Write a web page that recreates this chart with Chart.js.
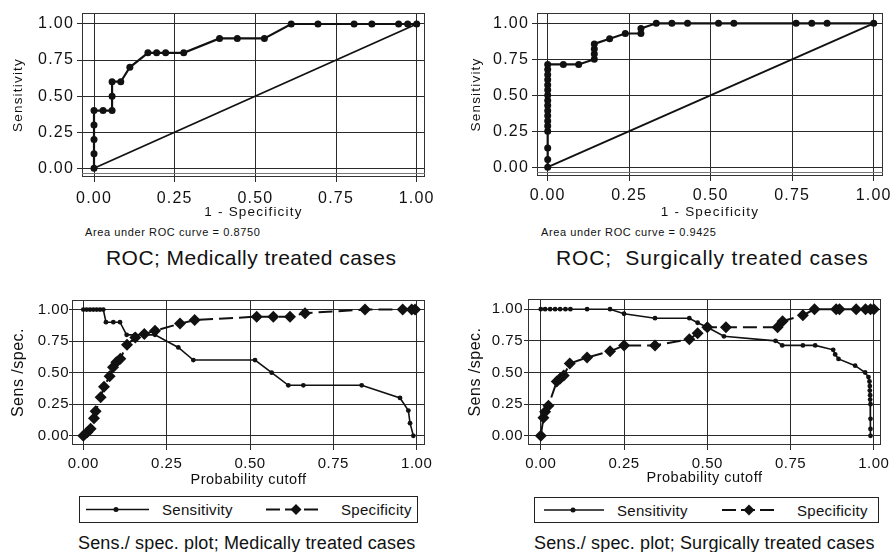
<!DOCTYPE html>
<html>
<head>
<meta charset="utf-8">
<script src="https://cdn.jsdelivr.net/npm/chart.js"></script>
<style>
  body { margin: 0; width: 892px; height: 552px; position: relative; overflow: hidden; background: #fff; color: #111;
         font-family: "Liberation Sans", Arial, Helvetica, sans-serif; }
  canvas { position: absolute; }
  .txt { position: absolute; white-space: pre; line-height: 1; }
  .auc { font-size: 11px; letter-spacing: 0.6px; }
  .roc-title { font-size: 21px; letter-spacing: 0.45px; }
  .ss-title { font-size: 18px; letter-spacing: 0.15px; }
  .legend { position: absolute; border: 1px solid #222; box-sizing: border-box; }
  .legend svg { position: absolute; left: 0; top: 0; }
  .legend span { position: absolute; font-size: 15px; line-height: 1; letter-spacing: 0.3px; white-space: nowrap; }
</style>
</head>
<body>
<canvas id="rocMed" width="440" height="222" style="left:0;top:0"></canvas>
<canvas id="rocSur" width="446" height="222" style="left:446px;top:0"></canvas>
<canvas id="ssMed" width="440" height="200" style="left:0;top:290px"></canvas>
<canvas id="ssSur" width="446" height="200" style="left:446px;top:290px"></canvas>

<div class="txt auc" style="left:85px;top:227px">Area under ROC curve = 0.8750</div>
<div class="txt auc" style="left:541px;top:227px">Area under ROC curve = 0.9425</div>
<div class="txt roc-title" style="left:106px;top:247px">ROC; Medically treated cases</div>
<div class="txt roc-title" style="left:556px;top:247px;letter-spacing:0.85px">ROC;  Surgically treated cases</div>

<div class="legend" id="legMed" style="left:79px;top:496px;width:339px;height:27px"></div>
<div class="legend" id="legSur" style="left:534px;top:497px;width:345px;height:26px"></div>

<div class="txt ss-title" style="left:78px;top:534px">Sens./ spec. plot; Medically treated cases</div>
<div class="txt ss-title" style="left:534px;top:534px">Sens./ spec. plot; Surgically treated cases</div>

<script>
const FONT = '"Liberation Sans", Arial, Helvetica, sans-serif';
const INK = '#111';

// axis ticks shared by every panel
const TICKS = [0, 0.25, 0.5, 0.75, 1];
const TICK_LABELS = ['0.00', '0.25', '0.50', '0.75', '1.00'];

// chance diagonal
const diagX = [0, 1];
const diagY = [0, 1];

// ROC, medically treated (1 - specificity, sensitivity)
const medRocX = [0, 0, 0, 0, 0, 0.028, 0.056, 0.056, 0.056, 0.083, 0.111, 0.167, 0.194, 0.222, 0.278, 0.389, 0.444, 0.528, 0.611, 0.694, 0.806, 0.861, 0.944, 0.972, 1];
const medRocY = [0, 0.1, 0.2, 0.3, 0.4, 0.4, 0.4, 0.5, 0.6, 0.6, 0.7, 0.8, 0.8, 0.8, 0.8, 0.9, 0.9, 0.9, 1, 1, 1, 1, 1, 1, 1];

// ROC, surgically treated
const surRocX = [0, 0, 0, 0, 0, 0, 0, 0, 0, 0, 0, 0, 0, 0, 0, 0, 0,
  0.048, 0.095, 0.143, 0.143, 0.143, 0.143, 0.19, 0.238, 0.286, 0.286, 0.333, 0.381, 0.429, 0.524, 0.571, 0.762, 0.81, 0.857, 1];
const surRocY = [0, 0.054, 0.134, 0.25, 0.286, 0.321, 0.357, 0.393, 0.429, 0.464, 0.5, 0.536, 0.571, 0.607, 0.643, 0.679, 0.714,
  0.714, 0.714, 0.75, 0.786, 0.821, 0.857, 0.893, 0.929, 0.929, 0.964, 1, 1, 1, 1, 1, 1, 1, 1, 1];

// sensitivity / specificity vs probability cutoff, medically treated
const medSensCut = [0, 0.01, 0.02, 0.03, 0.04, 0.05, 0.06, 0.068, 0.09, 0.11, 0.13, 0.155, 0.185, 0.215, 0.285, 0.33, 0.515, 0.565, 0.615, 0.66, 0.835, 0.95, 0.975, 0.98, 0.99];
const medSens = [1, 1, 1, 1, 1, 1, 1, 0.9, 0.9, 0.9, 0.8, 0.8, 0.8, 0.8, 0.7, 0.6, 0.6, 0.5, 0.4, 0.4, 0.4, 0.3, 0.2, 0.1, 0];
const medSpecCut = [0, 0.012, 0.022, 0.032, 0.037, 0.052, 0.062, 0.079, 0.089, 0.099, 0.111, 0.131, 0.156, 0.183, 0.215, 0.29, 0.334, 0.52, 0.57, 0.62, 0.665, 0.845, 0.958, 0.985, 0.995];
const medSpec = [0, 0.028, 0.056, 0.139, 0.194, 0.306, 0.389, 0.472, 0.544, 0.583, 0.611, 0.722, 0.778, 0.806, 0.833, 0.889, 0.917, 0.944, 0.944, 0.944, 0.972, 1, 1, 1, 1];

// sensitivity / specificity vs probability cutoff, surgically treated
const surSensCut = [0, 0.013, 0.028, 0.043, 0.058, 0.074, 0.089, 0.139, 0.208, 0.25, 0.343, 0.446, 0.471, 0.5, 0.55, 0.705, 0.725, 0.787, 0.824,
  0.878, 0.884, 0.894, 0.944, 0.974, 0.984, 0.987, 0.988, 0.988, 0.989, 0.989, 0.99, 0.99, 0.99, 0.99];
const surSens = [1, 1, 1, 1, 1, 1, 1, 1, 1, 0.964, 0.929, 0.929, 0.893, 0.857, 0.786, 0.75, 0.714, 0.714, 0.714,
  0.679, 0.643, 0.607, 0.554, 0.5, 0.464, 0.429, 0.393, 0.357, 0.321, 0.286, 0.25, 0.134, 0.054, 0];
const surSpecCut = [0, 0.008, 0.013, 0.023, 0.048, 0.058, 0.069, 0.087, 0.139, 0.208, 0.25, 0.343, 0.446, 0.471, 0.5, 0.556, 0.711, 0.726, 0.787, 0.822, 0.887, 0.897, 0.947, 0.975, 0.99, 1];
const surSpec = [0, 0.143, 0.19, 0.238, 0.429, 0.452, 0.476, 0.571, 0.619, 0.667, 0.714, 0.714, 0.762, 0.81, 0.857, 0.857, 0.857, 0.905, 0.952, 1, 1, 1, 1, 1, 1, 1];

function pts(xs, ys) { return xs.map((x, i) => ({ x, y: ys[i] })); }

// plot frame (Stata style box) + letter spacing for the axis text
const framePlugin = {
  id: 'frame',
  beforeDraw(chart, args, opts) { chart.ctx.letterSpacing = opts.spacing || '0px'; },
  afterDraw(chart, args, opts) {
    const { ctx, chartArea: a } = chart;
    ctx.save();
    ctx.strokeStyle = '#333';
    ctx.lineWidth = 1;
    ctx.strokeRect(a.left + 0.5, a.top + 0.5, a.right - a.left - 1, a.bottom - a.top - 1);
    if (opts.inner) {
      ctx.strokeStyle = '#777';
      ctx.beginPath();
      ctx.moveTo(a.left, a.bottom - opts.inner + 0.5);
      ctx.lineTo(a.right, a.bottom - opts.inner + 0.5);
      ctx.stroke();
    }
    ctx.restore();
    ctx.letterSpacing = '0px';
  }
};

function axis(a, dir) {
  return {
    type: 'linear', min: a.min, max: a.max,
    afterBuildTicks: s => { s.ticks = TICKS.map(v => ({ value: v })); },
    afterFit: s => {
      if (dir === 'x') s.height = a.size; else s.width = a.size;
      s.paddingLeft = s.paddingRight = s.paddingTop = s.paddingBottom = 0;
    },
    ticks: { autoSkip: false, maxRotation: 0, padding: a.tickPad, color: INK,
             font: { family: FONT, size: a.tickSize }, callback: (v, i) => TICK_LABELS[i] },
    grid: { color: '#2a2a2a', lineWidth: 1, tickLength: a.tickLen || 5, tickColor: '#2a2a2a' },
    border: { display: false },
    title: { display: true, text: a.title, color: INK, font: { family: FONT, size: a.titleSize },
             padding: dir === 'x' ? { top: 0, bottom: a.titlePad } : { top: a.titlePad, bottom: 0 } }
  };
}

function rocSets(xs, ys) {
  return [
    { data: pts(xs, ys), showLine: true, borderColor: INK, borderWidth: 2.2, pointRadius: 3.5,
      pointBackgroundColor: INK, pointBorderWidth: 0 },
    { data: pts(diagX, diagY), showLine: true, borderColor: INK, borderWidth: 1.8, pointRadius: 0 }
  ];
}

function sensSpecSets(cs, sens, cp, spec) {
  return [
    { data: pts(cp, spec), showLine: true, borderColor: INK, borderWidth: 2, borderDash: [14, 6],
      pointStyle: 'rectRot', pointRadius: 6, pointBackgroundColor: INK, pointBorderWidth: 0 },
    { data: pts(cs, sens), showLine: true, borderColor: INK, borderWidth: 1.6, pointRadius: 2.4,
      pointBackgroundColor: INK, pointBorderWidth: 0 }
  ];
}

function makeChart(id, cfg) {
  return new Chart(document.getElementById(id), {
    type: 'scatter',
    data: { datasets: cfg.datasets },
    options: {
      responsive: false, animation: false, events: [],
      layout: { padding: cfg.padding },
      plugins: { legend: { display: false }, tooltip: { enabled: false },
                 frame: { inner: cfg.inner, spacing: cfg.spacing } },
      scales: { x: axis(cfg.x, 'x'), y: axis(cfg.y, 'y') }
    },
    plugins: [framePlugin]
  });
}

makeChart('rocMed', {
  datasets: rocSets(medRocX, medRocY),
  padding: { top: 13, right: 15, bottom: 0, left: 0 }, inner: 4, spacing: '1.2px',
  x: { min: -0.0372, max: 1.0257, size: 45, tickPad: 7, tickSize: 16, title: '1 - Specificity', titleSize: 13.5, titlePad: 2 },
  y: { min: -0.0603, max: 1.0762, size: 82, tickPad: 3, tickSize: 16, title: 'Sensitivity', titleSize: 13.5, titlePad: 10 }
});

makeChart('rocSur', {
  datasets: rocSets(surRocX, surRocY),
  padding: { top: 13, right: 9, bottom: 0, left: 0 }, inner: 4, spacing: '1.2px',
  x: { min: -0.0328, max: 1.0285, size: 46, tickPad: 5, tickSize: 16, title: '1 - Specificity', titleSize: 13.5, titlePad: 2 },
  y: { min: -0.0612, max: 1.0716, size: 91, tickPad: 3, tickSize: 16, title: 'Sensitivity', titleSize: 13.5, titlePad: 22 }
});

makeChart('ssMed', {
  datasets: sensSpecSets(medSensCut, medSens, medSpecCut, medSpec),
  padding: { top: 10, right: 15, bottom: 0, left: 0 }, spacing: '0.5px',
  x: { min: -0.0339, max: 1.0249, size: 45, tickPad: 5, tickSize: 15, title: 'Probability cutoff', titleSize: 14.5, titlePad: 1 },
  y: { min: -0.0729, max: 1.076, size: 72, tickPad: 0, tickLen: 3, tickSize: 15, title: 'Sens /spec.', titleSize: 16, titlePad: 9 }
});

makeChart('ssSur', {
  datasets: sensSpecSets(surSensCut, surSens, surSpecCut, surSpec),
  padding: { top: 9, right: 11, bottom: 0, left: 0 }, spacing: '0.5px',
  x: { min: -0.0384, max: 1.0216, size: 45, tickPad: 5, tickSize: 15, title: 'Probability cutoff', titleSize: 14.5, titlePad: 3 },
  y: { min: -0.0727, max: 1.0806, size: 82, tickPad: 1, tickLen: 4, tickSize: 15, title: 'Sens /spec.', titleSize: 16, titlePad: 20 }
});

// legend boxes: line + marker samples with real text labels
function buildLegend(id, s) {
  const box = document.getElementById(id);
  const h = box.clientHeight, cy = h / 2;
  const d = 5.5, m = s.diamond;
  box.innerHTML =
    `<svg width="${box.clientWidth}" height="${h}">
       <line x1="${s.solid[0]}" y1="${cy}" x2="${s.solid[1]}" y2="${cy}" stroke="${INK}" stroke-width="1.5"/>
       <circle cx="${s.dot}" cy="${cy}" r="2.5" fill="${INK}"/>
       <line x1="${s.dash[0]}" y1="${cy}" x2="${s.dash[1]}" y2="${cy}" stroke="${INK}" stroke-width="2" stroke-dasharray="14 5"/>
       <polygon points="${m - d},${cy} ${m},${cy - d} ${m + d},${cy} ${m},${cy + d}" fill="${INK}"/>
     </svg>
     <span style="left:${s.t1}px;top:${cy - 7.4}px">Sensitivity</span>
     <span style="left:${s.t2}px;top:${cy - 7.4}px">Specificity</span>`;
}

buildLegend('legMed', { solid: [6, 69], dot: 36, dash: [186, 243], diamond: 216, t1: 82, t2: 261 });
buildLegend('legSur', { solid: [9, 69], dot: 38, dash: [187, 242], diamond: 214, t1: 82, t2: 262 });
</script>
</body>
</html>
